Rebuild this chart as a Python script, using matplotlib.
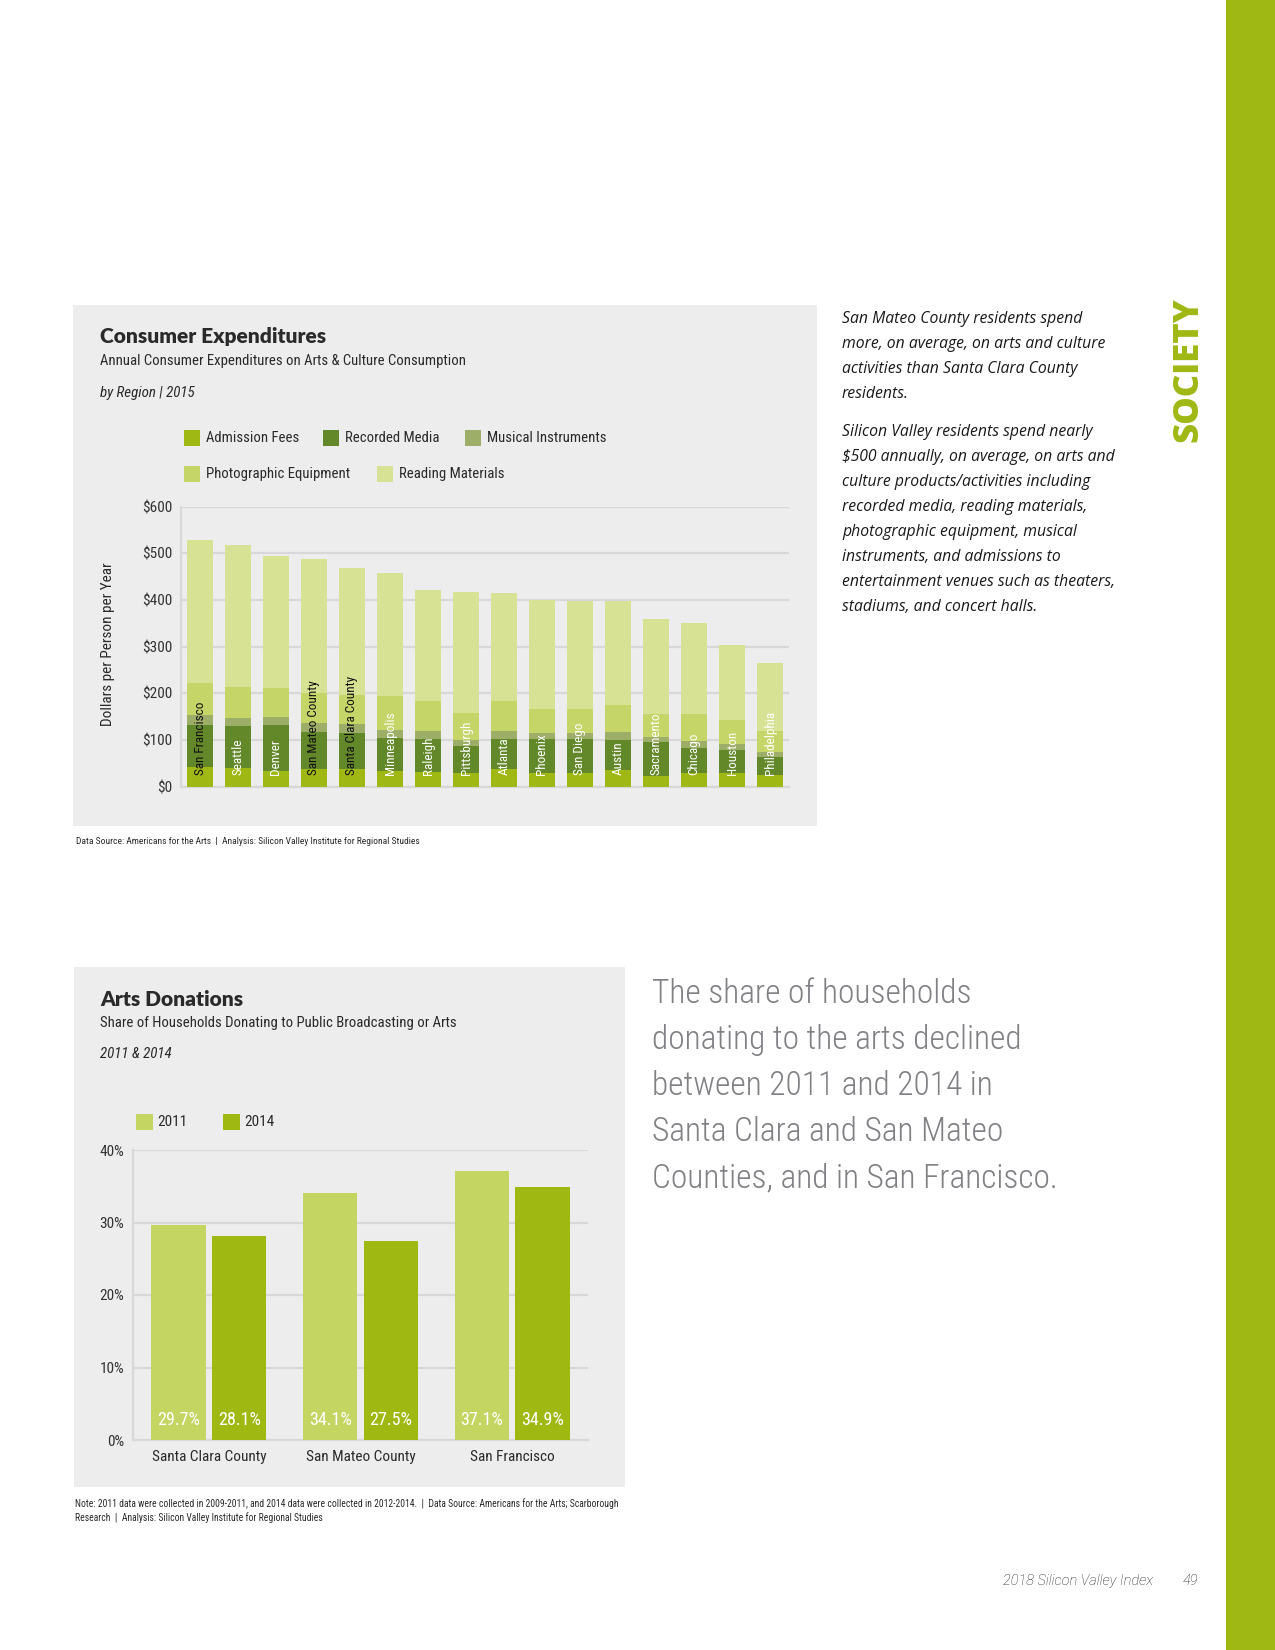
import matplotlib
matplotlib.use('Agg')
import matplotlib.pyplot as plt
from matplotlib.patches import Rectangle
import numpy as np

# %% data - consumer expenditures (dollars per person per year, 2015)
regions = ['San Francisco', 'Seattle', 'Denver', 'San Mateo County', 'Santa Clara County',
           'Minneapolis', 'Raleigh', 'Pittsburgh', 'Atlanta', 'Phoenix', 'San Diego',
           'Austin', 'Sacramento', 'Chicago', 'Houston', 'Philadelphia']
admission = [42, 40, 34, 38, 38, 34, 31, 29, 38, 29, 29, 36, 23, 29, 29, 25]
recorded = [90, 90, 98, 79, 77, 70, 71, 58, 64, 73, 73, 64, 73, 54, 50, 39]
musical = [21, 17, 17, 19, 19, 17, 17, 13, 17, 13, 13, 17, 10, 15, 12, 10]
photo = [69, 67, 62, 65, 62, 73, 65, 58, 65, 51, 51, 58, 50, 58, 52, 45]
reading = [306, 305, 283, 288, 272, 263, 237, 259, 231, 234, 232, 223, 203, 195, 161, 147]
series_names = ['Admission Fees', 'Recorded Media', 'Musical Instruments',
                'Photographic Equipment', 'Reading Materials']
dollar_ticks = [0, 100, 200, 300, 400, 500, 600]
dark_labels = ['San Francisco', 'San Mateo County', 'Santa Clara County']

# %% data - arts donations (share of households)
counties = ['Santa Clara County', 'San Mateo County', 'San Francisco']
share_2011 = [29.7, 34.1, 37.1]
share_2014 = [28.1, 27.5, 34.9]
pct_ticks = [0, 10, 20, 30, 40]

# %% colours / fonts
c_adm = '#a0b814'
c_rec = '#62882a'
c_mus = '#9cae67'
c_pho = '#c5d567'
c_rea = '#d7e294'
c_2011 = '#c4d562'
c_2014 = '#a0b812'
panel_bg = '#ededed'
grid_c = '#d8d8d8'
txt = '#2a2a2a'

NARROW = ['Roboto Condensed', 'Liberation Sans Narrow', 'Liberation Sans', 'DejaVu Sans']
plt.rcParams['font.family'] = NARROW

W, H = 1275, 1650
fig = plt.figure(figsize=(W / 100, H / 100), dpi=100)
fig.patch.set_facecolor('white')


def fx(x):
    return x / W


def fy(y):
    return 1 - y / H


def box(x0, y0, x1, y1, color, z=-1):
    fig.patches.append(Rectangle((fx(x0), fy(y1)), (x1 - x0) / W, (y1 - y0) / H,
                                 transform=fig.transFigure, facecolor=color,
                                 edgecolor='none', zorder=z))


# panels and side bar
box(73, 305, 817, 826, panel_bg)
box(74, 967, 625, 1487, panel_bg)
box(1226, 0, 1275, 1650, '#a0b814')

# %% chart 1 - consumer expenditures
fig.text(fx(100), fy(337), 'Consumer Expenditures', family=['Lato', 'DejaVu Sans'],
         fontweight='heavy', fontsize=15, color=txt, va='center')
fig.text(fx(100), fy(361), 'Annual Consumer Expenditures on Arts & Culture Consumption',
         fontsize=10.6, color=txt, va='center')
fig.text(fx(100), fy(393), 'by Region | 2015', fontsize=10.8, style='italic', color=txt, va='center')

leg_pos = [(184, 438), (323, 438), (465, 438), (184, 474), (377, 474)]
colors = [c_adm, c_rec, c_mus, c_pho, c_rea]
for (lx, ly), col, name in zip(leg_pos, colors, series_names):
    box(lx, ly - 8, lx + 16, ly + 8, col, z=1)
    fig.text(fx(lx + 22), fy(ly), name, fontsize=10.6, color=txt, va='center')

ax1 = fig.add_axes([fx(181), fy(786.7), (789 - 181) / W, 280 / H])
ax1.set_facecolor(panel_bg)
x = np.arange(len(regions))
bottom = np.zeros(len(regions))
for vals, col in zip([admission, recorded, musical, photo, reading], colors):
    ax1.bar(x, vals, width=0.71, bottom=bottom, color=col, zorder=3)
    bottom += np.array(vals)

for i, name in enumerate(regions):
    ax1.annotate(name, (i, 0), xytext=(0, 8.5), textcoords='offset points',
                 rotation=90, ha='center', va='bottom', fontsize=9.5,
                 color='#111111' if name in dark_labels else 'white', zorder=5)

ax1.set_xlim(-0.5, len(regions) - 0.5)
ax1.set_ylim(0, 600)
ax1.set_yticks(dollar_ticks)
ax1.set_yticklabels(['$%d' % v for v in dollar_ticks])
ax1.set_xticks([])
ax1.yaxis.grid(True, color=grid_c, linewidth=1.6)
ax1.set_axisbelow(True)
for s in ['top', 'right']:
    ax1.spines[s].set_visible(False)
for s in ['left', 'bottom']:
    ax1.spines[s].set_color(grid_c)
    ax1.spines[s].set_linewidth(1.6)
ax1.tick_params(axis='y', length=0, pad=6.5, labelsize=11, labelcolor='#333333')
fig.text(fx(108), fy(644), 'Dollars per Person per Year', rotation=90, fontsize=11,
         color=txt, ha='center', va='center')

fig.text(fx(76), fy(842), 'Data Source: Americans for the Arts  |  Analysis: Silicon Valley Institute for Regional Studies',
         fontsize=6.8, color=txt, va='center')

# %% chart 2 - arts donations
fig.text(fx(100), fy(999), 'Arts Donations', family=['Lato', 'DejaVu Sans'],
         fontweight='heavy', fontsize=15, color=txt, va='center')
fig.text(fx(100), fy(1023), 'Share of Households Donating to Public Broadcasting or Arts',
         fontsize=10.6, color=txt, va='center')
fig.text(fx(100), fy(1054), '2011 & 2014', fontsize=10.8, style='italic', color=txt, va='center')

for (lx, ly), col, name in zip([(136, 1122), (223, 1122)], [c_2011, c_2014], ['2011', '2014']):
    box(lx, ly - 8, lx + 17, ly + 8, col, z=1)
    fig.text(fx(lx + 21), fy(ly), name, fontsize=11, color=txt, va='center')

ax2 = fig.add_axes([fx(133), fy(1440), (588 - 133) / W, (1440 - 1150) / H])
ax2.set_facecolor(panel_bg)
g = np.arange(len(counties))
ax2.bar(g - 0.2, share_2011, width=0.36, color=c_2011, zorder=3)
ax2.bar(g + 0.2, share_2014, width=0.36, color=c_2014, zorder=3)
for xs, vals in [(g - 0.2, share_2011), (g + 0.2, share_2014)]:
    for xi, v in zip(xs, vals):
        ax2.annotate('%.1f%%' % v, (xi, 0), xytext=(0, 8), textcoords='offset points',
                     ha='center', va='bottom', fontsize=13, color='white', zorder=5)

ax2.set_xlim(-0.5, 2.5)
ax2.set_ylim(0, 40)
ax2.set_yticks(pct_ticks)
ax2.set_yticklabels(['%d%%' % v for v in pct_ticks])
ax2.set_xticks(g)
ax2.set_xticklabels(counties)
ax2.yaxis.grid(True, color=grid_c, linewidth=1.6)
ax2.set_axisbelow(True)
for s in ['top', 'right']:
    ax2.spines[s].set_visible(False)
for s in ['left', 'bottom']:
    ax2.spines[s].set_color(grid_c)
    ax2.spines[s].set_linewidth(1.6)
ax2.tick_params(axis='y', length=0, pad=6.5, labelsize=11, labelcolor='#333333')
ax2.tick_params(axis='x', length=0, pad=7, labelsize=11, labelcolor=txt)

fig.text(fx(75), fy(1504), 'Note: 2011 data were collected in 2009-2011, and 2014 data were collected in 2012-2014.  |  Data Source: Americans for the Arts; Scarborough',
         fontsize=6.9, color=txt, va='center')
fig.text(fx(75), fy(1518), 'Research  |  Analysis: Silicon Valley Institute for Regional Studies',
         fontsize=6.9, color=txt, va='center')

# %% side texts
para1 = ['San Mateo County residents spend',
         'more, on average, on arts and culture',
         'activities than Santa Clara County',
         'residents.']
para2 = ['Silicon Valley residents spend nearly',
         '$500 annually, on average, on arts and',
         'culture products/activities including',
         'recorded media, reading materials,',
         'photographic equipment, musical',
         'instruments, and admissions to',
         'entertainment venues such as theaters,',
         'stadiums, and concert halls.']
side_font = ['Open Sans', 'Liberation Sans', 'DejaVu Sans']
for i, line in enumerate(para1):
    fig.text(fx(842), fy(322.7 + 25 * i), line, family=side_font, fontsize=11.3,
             style='italic', color='#1a1a1a', va='baseline')
for i, line in enumerate(para2):
    fig.text(fx(842), fy(436 + 25 * i), line, family=side_font, fontsize=11.3,
             style='italic', color='#1a1a1a', va='baseline')

big = ['The share of households',
       'donating to the arts declined',
       'between 2011 and 2014 in',
       'Santa Clara and San Mateo',
       'Counties, and in San Francisco.']
for i, line in enumerate(big):
    fig.text(fx(652), fy(1003 + 46 * i), line, family=['Roboto Condensed', 'Roboto', 'DejaVu Sans'],
             fontweight='light', fontsize=24, color='#808085', va='baseline')

fig.text(fx(1188), fy(370), 'SOCIETY', rotation=90, family=['Open Sans', 'DejaVu Sans'],
         fontweight='heavy', fontsize=25, color='#a0b814', ha='center', va='center')

fig.text(fx(1003), fy(1585), '2018 Silicon Valley Index', family=['Roboto', 'DejaVu Sans'],
         fontweight='light', fontsize=10.5, style='italic', color='#222222', va='baseline')
fig.text(fx(1183), fy(1585), '49', family=['Roboto', 'DejaVu Sans'], fontweight='light',
         fontsize=10.5, style='italic', color='#222222', va='baseline')

fig.savefig('out.png', dpi=100, facecolor='white')
